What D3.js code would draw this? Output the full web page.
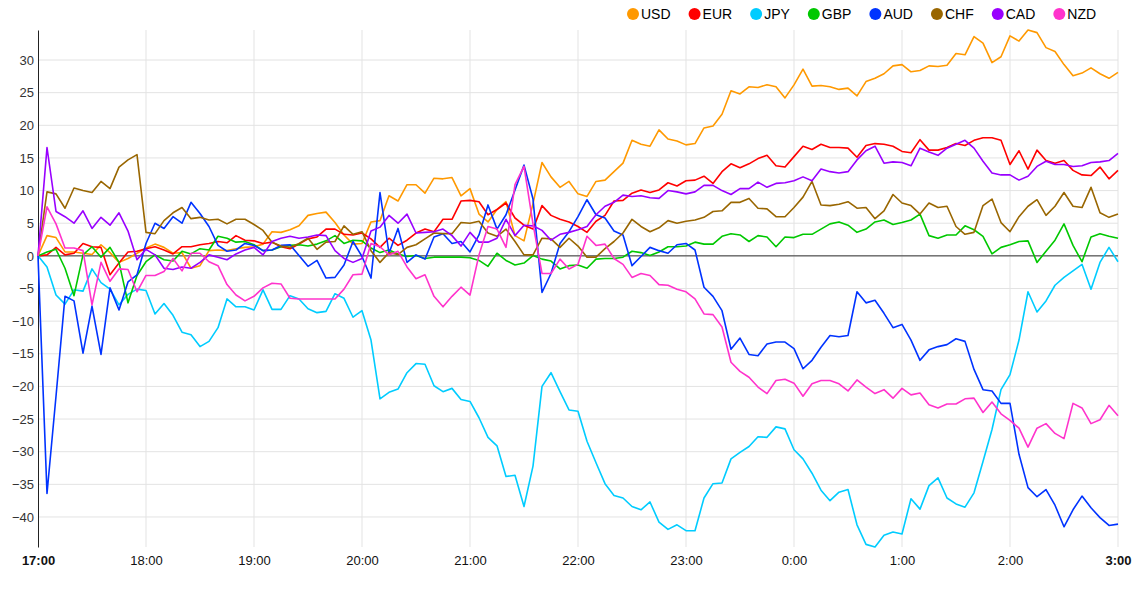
<!DOCTYPE html>
<html>
<head>
<meta charset="utf-8">
<script src="https://cdn.jsdelivr.net/npm/d3@7"></script>
<style>
  body { margin: 0; background: #fff; }
  text { font-family: "Liberation Sans", Arial, sans-serif; }
</style>
</head>
<body>
<div id="chart"></div>
<script>
// 5-minute samples, 17:00 -> 3:00
var currencies = ['USD', 'EUR', 'JPY', 'GBP', 'AUD', 'CHF', 'CAD', 'NZD'];
var colors = ['#ff9900', '#ff0000', '#00ccff', '#00c800', '#0033ff', '#996600', '#9900ff', '#ff33cc'];

var usd = [0, 3.1, 2.8, 0.6, 0.6, 0.4, 0.2, 1.7, 0.5, -1.0, -0.4, 0.4, 1.2, 1.8, 1.3, 0.4, 0.5, -1.9, -1.5, 0.8, 0.9,
  0.8, 1.1, 1.3, 1.4, 1.8, 3.7, 3.6, 4.0, 4.6, 6.2, 6.5, 6.7, 5.1, 3.2, 1.8, 1.9, 5.2, 5.4, 9.2, 8.4,
  10.9, 10.9, 9.6, 11.9, 11.8, 12.0, 9.2, 10.3, 6.4, 5.2, 7.1, 8.3, 3.1, 2.3, 8.0, 14.3, 12.1, 10.5, 11.4, 9.5,
  9.1, 11.4, 11.6, 12.9, 14.2, 17.7, 17.1, 16.8, 19.3, 17.9, 17.6, 17.0, 17.2, 19.6, 19.9, 21.7, 25.3, 24.8, 25.9, 25.8,
  26.2, 25.9, 24.2, 26.2, 28.6, 26.0, 26.1, 25.9, 25.5, 25.7, 24.5, 26.7, 27.2, 27.9, 29.1, 29.3, 28.2, 28.4, 29.1, 29.0,
  29.2, 31.0, 30.8, 33.6, 32.6, 29.6, 30.5, 33.7, 32.9, 34.6, 34.2, 31.9, 31.3, 29.3, 27.6, 28.0, 28.8, 27.9, 27.2, 28.1];
var eur = [0, 0.15, 1.3, 0.15, 0.4, 1.9, 1.4, 1.3, -2.9, -1.1, 0.6, 0.7, 1.1, 1.4, 0.9, 0.3, 1.4, 1.4, 1.7, 1.9, 2.2,
  2.0, 3.1, 2.4, 2.3, 1.9, 2.1, 1.4, 1.1, 1.8, 2.6, 2.9, 4.1, 4.1, 3.3, 3.2, 3.5, 2.6, 1.3, 2.7, 1.6,
  2.4, 3.5, 4.1, 3.7, 5.6, 5.6, 8.4, 8.5, 8.3, 6.3, 7.1, 8.1, 5.8, 4.7, 4.1, 7.7, 6.2, 5.6, 5.2, 4.5,
  3.6, 5.3, 6.2, 8.4, 8.5, 9.6, 10.1, 9.7, 10.1, 11.2, 10.7, 11.5, 11.6, 12.2, 11.1, 12.9, 14.1, 13.5, 14.1, 14.9,
  15.4, 13.8, 13.6, 15.2, 16.8, 16.3, 17.1, 16.6, 16.6, 16.5, 15.1, 16.9, 17.2, 17.1, 16.8, 16.0, 15.8, 17.8, 16.2, 16.2,
  16.6, 17.2, 16.9, 17.7, 18.1, 18.1, 17.7, 14.0, 16.1, 13.3, 16.2, 14.6, 14.2, 14.6, 13.1, 12.4, 12.3, 13.6, 11.8, 13.1];
var jpy = [0, -1.7, -6.0, -7.4, -5.2, -5.4, -2.0, -4.1, -5.1, -7.5, -5.9, -5.1, -5.3, -8.9, -7.3, -9.1, -11.7, -12.1, -13.9, -13.1, -11.0,
  -6.6, -7.8, -7.8, -8.3, -5.2, -8.2, -8.2, -6.1, -6.6, -8.1, -8.7, -8.5, -5.8, -6.5, -9.4, -8.4, -12.9, -21.9, -20.9, -20.4,
  -17.9, -16.5, -16.6, -19.9, -20.8, -20.3, -22.0, -22.3, -24.8, -27.8, -29.1, -33.8, -33.6, -38.4, -32.2, -20.0, -17.9, -20.8, -23.6, -23.8,
  -28.4, -31.7, -34.9, -36.7, -37.1, -38.4, -38.9, -37.7, -40.8, -41.9, -41.2, -42.1, -42.1, -37.1, -34.9, -34.8, -31.1, -30.1, -29.2, -27.7,
  -27.8, -26.2, -26.5, -29.7, -31.1, -33.3, -35.9, -37.5, -36.2, -35.8, -41.2, -44.2, -44.6, -42.8, -42.3, -42.6, -37.2, -38.8, -35.2, -34.0,
  -37.1, -38.0, -38.5, -36.3, -31.5, -26.6, -20.5, -18.2, -12.9, -5.5, -8.6, -6.9, -4.5, -3.3, -2.3, -1.3, -5.1, -1.0, 1.3, -0.9];
var gbp = [0, 0.6, 1.0, -1.9, -6.1, 0.15, 1.4, -0.2, 1.3, -1.0, -7.2, -3.0, -0.9, 0.15, -0.6, -0.8, 0.7, 0.3, 1.1, 0.9, 3.0,
  2.7, 2.1, 2.2, 1.7, 0.8, 0.9, 1.4, 1.6, 1.7, 1.5, 1.8, 2.3, 3.1, 1.9, 2.4, 2.3, 1.2, 0.5, 0.9, 0.3,
  -0.1, 0.05, -0.4, -0.2, -0.2, -0.2, -0.2, -0.3, -0.7, -1.6, 0.4, -0.7, -1.4, -1.1, 0.05, -0.5, -0.8, -2.0, -1.5, -1.4,
  -1.9, -0.5, -0.4, -0.4, -0.2, 0.7, 0.5, 0.05, 0.6, 1.4, 1.4, 1.5, 2.1, 1.8, 1.8, 3.0, 3.4, 3.2, 2.2, 3.1,
  2.9, 1.4, 2.9, 2.8, 3.3, 3.3, 4.1, 4.9, 5.2, 4.7, 3.6, 4.1, 5.2, 5.5, 4.8, 5.1, 5.5, 6.4, 3.1, 2.7,
  3.2, 3.2, 4.6, 4.0, 3.0, 0.3, 1.3, 1.7, 2.2, 2.3, -1.0, 0.7, 2.4, 4.9, 1.6, -0.9, 2.9, 3.4, 3.0, 2.7];
var aud = [0, -36.4, -21.5, -6.2, -6.9, -14.9, -7.7, -15.1, -4.9, -8.3, -4.0, -2.9, 1.9, 5.0, 4.2, 6.0, 5.0, 8.2, 6.5, 4.5, 1.6,
  0.7, 0.9, 1.9, 1.6, 0.8, 0.9, 1.6, 1.7, 0.05, -1.6, -0.7, -3.4, -3.3, -1.4, 2.2, -0.1, -3.4, 9.7, 0.4, 4.2,
  -1.0, 0.15, -0.5, 2.9, 3.4, 1.9, 2.2, 0.6, 3.2, 7.8, 4.1, 6.3, 10.1, 13.9, 8.7, -5.6, -2.7, 1.9, 3.7, 6.0,
  8.6, 6.3, 5.8, 3.8, 3.2, -1.5, -0.1, 1.3, 0.8, 0.4, 1.7, 1.9, 0.9, -4.8, -6.2, -8.4, -14.3, -12.6, -15.1, -15.3,
  -13.5, -13.2, -13.2, -14.2, -17.3, -16.0, -14.0, -12.2, -12.4, -12.2, -5.5, -7.2, -6.8, -8.8, -11.0, -10.5, -12.9, -16.0, -14.4, -13.9,
  -13.6, -12.7, -13.1, -17.4, -20.5, -20.7, -22.6, -22.6, -30.4, -35.5, -36.9, -35.8, -38.2, -41.5, -38.9, -36.8, -38.6, -40.1, -41.3, -41.1];
var chf = [0, 9.8, 9.5, 7.3, 10.4, 10.0, 9.7, 11.4, 10.3, 13.6, 14.7, 15.5, 3.6, 3.4, 5.4, 6.6, 7.4, 5.7, 5.9, 5.5, 5.6,
  4.9, 5.6, 5.6, 4.8, 3.9, 2.1, 1.5, 1.3, 1.9, 2.7, 1.0, 2.1, 2.2, 4.6, 3.3, 3.7, 0.8, -1.0, 0.5, 0.2,
  1.3, 1.7, 2.6, 3.5, 3.4, 3.4, 5.1, 5.0, 5.3, 3.5, 3.0, 4.1, 2.2, 0.15, 0.15, 2.7, 2.6, 1.3, 2.7, 1.5,
  -0.2, -0.2, 1.1, 2.2, 3.5, 5.6, 4.5, 3.7, 4.3, 5.4, 5.0, 5.3, 5.5, 5.9, 6.8, 6.9, 8.2, 8.2, 8.8, 7.3,
  7.2, 6.0, 6.0, 7.4, 9.0, 11.4, 7.8, 7.7, 7.9, 8.3, 7.3, 7.4, 5.7, 6.9, 9.4, 8.1, 7.7, 6.4, 8.1, 7.4,
  7.6, 4.5, 3.3, 3.6, 7.7, 8.7, 5.1, 3.7, 6.0, 7.6, 8.6, 6.2, 7.6, 9.7, 7.6, 7.4, 10.5, 6.6, 5.9, 6.4];
var cad = [0, 16.6, 6.8, 6.0, 5.0, 6.9, 4.2, 5.9, 4.7, 6.6, 3.8, -0.6, 1.0, 0.15, -1.9, -2.1, -1.7, -1.9, -1.0, 0.15, -0.2,
  -0.6, 0.3, 0.9, 1.3, 0.15, 2.2, 2.7, 3.0, 2.7, 2.9, 3.2, 3.1, 0.8, -0.4, -1.0, -0.4, 3.8, 4.4, 6.2, 5.0,
  6.4, 3.5, 3.6, 3.7, 4.1, 3.1, 1.5, 3.6, 2.1, 2.1, 2.7, 5.6, 3.1, 4.7, 4.6, 3.9, 2.4, 3.3, 3.6, 4.0,
  4.5, 6.3, 7.6, 8.2, 9.3, 9.1, 9.2, 8.9, 8.8, 10.0, 9.8, 9.5, 9.8, 10.8, 10.8, 10.0, 9.4, 10.3, 10.3, 11.3,
  10.5, 11.1, 11.2, 11.5, 12.1, 11.5, 13.3, 12.9, 12.7, 12.9, 14.7, 16.1, 16.8, 14.2, 14.4, 14.3, 13.8, 16.5, 15.9, 15.4,
  16.5, 17.1, 17.7, 16.5, 14.5, 12.7, 12.4, 12.4, 11.6, 12.2, 13.7, 14.5, 14.0, 14.0, 13.7, 13.8, 14.3, 14.4, 14.6, 15.7];
var nzd = [0, 7.5, 4.9, 1.2, 1.2, 0.8, -7.5, -1.0, -3.9, -2.0, -2.1, -5.5, -3.0, -3.0, -2.4, -0.4, -2.3, 0.4, 0.4, -0.9, -1.5,
  -4.4, -6.0, -6.9, -6.2, -4.9, -4.2, -4.3, -6.5, -6.6, -6.6, -6.6, -6.6, -6.6, -5.1, -2.9, -2.8, 1.9, 1.4, 0.15, 0.7,
  -1.7, -3.5, -2.9, -6.2, -7.8, -6.2, -4.8, -6.0, 0.15, 4.5, 4.1, 1.3, 10.9, 13.7, 4.9, -2.7, -2.7, -0.5, -2.0, -1.3,
  3.0, 1.6, 1.8, -0.4, -1.3, -3.3, -2.7, -3.0, -4.4, -4.5, -5.1, -5.5, -6.6, -8.9, -9.0, -10.9, -16.3, -17.7, -18.6, -20.1,
  -21.1, -19.1, -18.9, -19.5, -21.5, -19.6, -19.1, -19.1, -19.6, -20.7, -19.0, -20.1, -21.1, -20.5, -21.8, -20.3, -21.3, -21.0, -22.8, -23.3,
  -22.7, -22.7, -21.9, -21.8, -24.0, -22.4, -24.2, -25.2, -26.4, -29.3, -26.4, -25.7, -27.2, -28.0, -22.6, -23.3, -25.7, -25.1, -22.9, -24.5];

var yTicks = [-40, -35, -30, -25, -20, -15, -10, -5, 0, 5, 10, 15, 20, 25, 30];

var series = [usd, eur, jpy, gbp, aud, chf, cad, nzd];

var width = 1137, height = 598;
var margin = {top: 30, right: 19, bottom: 51, left: 38};

var start = new Date(2020, 0, 1, 17, 0);
var end = new Date(2020, 0, 2, 3, 0);
var times = d3.timeMinute.every(5).range(start, d3.timeMinute.offset(end, 1));

var svg = d3.select('#chart').append('svg')
  .attr('width', width)
  .attr('height', height);

var x = d3.scaleTime().domain([start, end]).range([margin.left, width - margin.right]);
var y = d3.scaleLinear()
  .domain(d3.extent(d3.merge(series)))
  .range([height - margin.bottom, margin.top]);

// grid
var hours = d3.timeHour.every(1).range(start, d3.timeMinute.offset(end, 1));
svg.append('g')
  .selectAll('line.hgrid')
  .data(yTicks)
  .enter().append('line')
  .attr('x1', margin.left).attr('x2', width - margin.right)
  .attr('y1', function(d) { return y(d); }).attr('y2', function(d) { return y(d); })
  .attr('stroke', '#e3e3e3').attr('stroke-width', 1);
svg.append('g')
  .selectAll('line.vgrid')
  .data(hours.slice(1))
  .enter().append('line')
  .attr('x1', function(d) { return x(d); }).attr('x2', function(d) { return x(d); })
  .attr('y1', margin.top).attr('y2', height - margin.bottom)
  .attr('stroke', '#e3e3e3').attr('stroke-width', 1);

// y axis
var yAxis = svg.append('g')
  .attr('transform', 'translate(' + margin.left + ',0)')
  .call(d3.axisLeft(y).tickValues(yTicks).tickSize(0).tickPadding(4));
yAxis.select('.domain').attr('stroke', '#222');
yAxis.selectAll('text')
  .style('font-size', '13px')
  .attr('fill', '#333');

// x axis
var fmt = d3.timeFormat('%-H:%M');
var xAxis = svg.append('g')
  .attr('transform', 'translate(0,' + (height - margin.bottom) + ')')
  .call(d3.axisBottom(x).tickValues(hours).tickFormat(fmt).tickSize(0).tickPadding(9));
xAxis.select('.domain').remove();
xAxis.selectAll('text')
  .style('font-size', '13px')
  .attr('fill', '#111')
  .style('font-weight', function(d, i) { return (i === 0 || i === hours.length - 1) ? 'bold' : 'normal'; });

// zero line
svg.append('line')
  .attr('x1', margin.left).attr('x2', width - margin.right)
  .attr('y1', y(0)).attr('y2', y(0))
  .attr('stroke', '#333').attr('stroke-width', 1);

var line = d3.line()
  .x(function(d, i) { return x(times[i]); })
  .y(function(d) { return y(d); });

svg.append('g')
  .selectAll('path')
  .data(series)
  .enter().append('path')
  .attr('d', line)
  .attr('fill', 'none')
  .attr('stroke', function(d, i) { return colors[i]; })
  .attr('stroke-width', 1.6)
  .attr('stroke-linejoin', 'round');

// legend
var legend = svg.append('g').attr('transform', 'translate(0,14)');
var lx = 633;
currencies.forEach(function(c, i) {
  legend.append('circle')
    .attr('cx', lx).attr('cy', 0).attr('r', 6)
    .attr('fill', colors[i]);
  var t = legend.append('text')
    .attr('x', lx + 8).attr('y', 5)
    .style('font-size', '14px')
    .attr('fill', '#000')
    .text(c);
  lx += 8 + t.node().getComputedTextLength() + 24;
});
</script>
</body>
</html>
